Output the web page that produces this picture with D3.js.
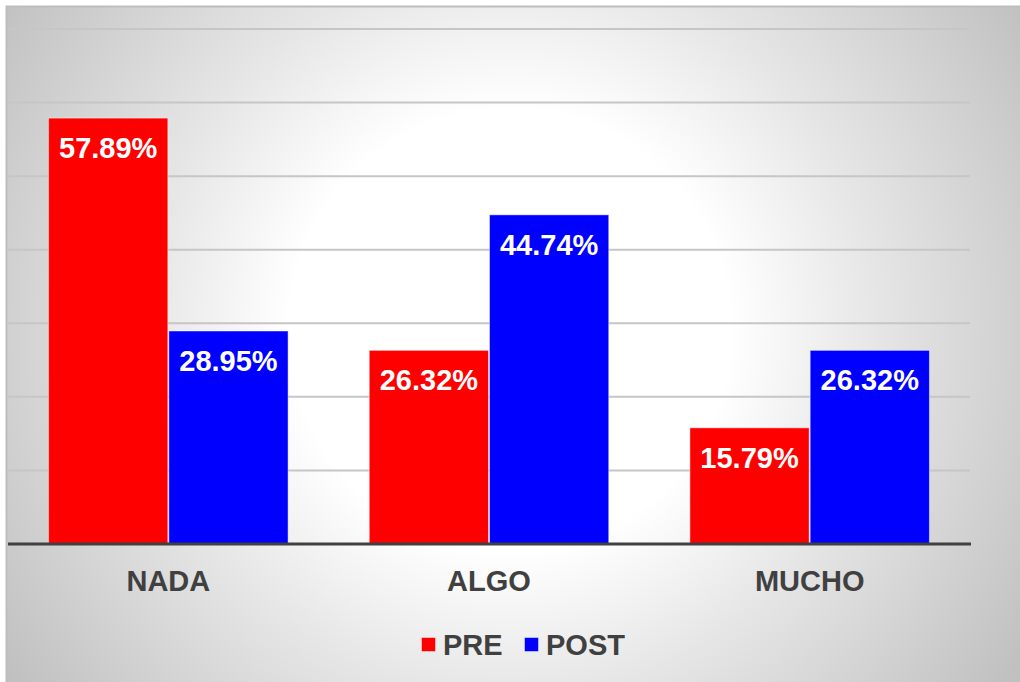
<!DOCTYPE html>
<html>
<head>
<meta charset="utf-8">
<script src="https://cdn.jsdelivr.net/npm/d3@7"></script>
<style>
  html, body { margin: 0; padding: 0; background: #ffffff; }
  svg { display: block; font-family: "Liberation Sans", Arial, sans-serif; }
</style>
</head>
<body>
<svg id="chart" width="1020" height="682"></svg>
<script>
// Categories, series and their values (percent)
const categories = ["NADA", "ALGO", "MUCHO"];
const seriesNames = ["PRE", "POST"];
const preValues = [57.89, 26.32, 15.79];
const postValues = [28.95, 44.74, 26.32];
const gridTicks = [10, 20, 30, 40, 50, 60, 70];
const seriesColors = ["#ff0000", "#0000ff"];

const svg = d3.select("#chart");
const W = 1020, H = 682;
const FONT_SIZE = 29;

// Background panel with radial grey-to-white shading
const defs = svg.append("defs");
const grad = defs.append("radialGradient")
  .attr("id", "bg")
  .attr("gradientUnits", "userSpaceOnUse")
  .attr("cx", 510).attr("cy", 330).attr("r", 610);
grad.append("stop").attr("offset", 0).attr("stop-color", "#ffffff");
grad.append("stop").attr("offset", 0.36).attr("stop-color", "#ffffff");
grad.append("stop").attr("offset", 0.6).attr("stop-color", "#e6e6e6");
grad.append("stop").attr("offset", 1).attr("stop-color", "#c0c0c0");

svg.append("rect")
  .attr("x", 6).attr("y", 6).attr("width", W - 6).attr("height", H - 6)
  .attr("fill", "url(#bg)");
svg.append("path")
  .attr("d", `M6.5,${H} V6.5 H${W}`)
  .attr("fill", "none").attr("stroke", "#bdbdbd").attr("stroke-width", 2);

// Plot area
const plot = { left: 8, right: 970, top: 29, bottom: 544 };

const x0 = d3.scaleBand()
  .domain(categories)
  .range([plot.left, plot.right])
  .paddingInner(0.25).paddingOuter(0.125);
const x1 = d3.scaleBand()
  .domain(seriesNames)
  .range([0, x0.bandwidth()])
  .padding(0);
const y = d3.scaleLinear().domain([0, 70]).range([plot.bottom, plot.top]);

// Horizontal gridlines
svg.append("g")
  .selectAll("line")
  .data(gridTicks)
  .join("line")
  .attr("x1", plot.left).attr("x2", plot.right)
  .attr("y1", d => y(d)).attr("y2", d => y(d))
  .attr("stroke", "#c6c6c6").attr("stroke-width", 2);

// Bars
const rows = categories.map((c, i) => ({
  category: c,
  values: [
    { series: "PRE", value: preValues[i], color: seriesColors[0] },
    { series: "POST", value: postValues[i], color: seriesColors[1] }
  ]
}));

const groups = svg.append("g")
  .selectAll("g")
  .data(rows)
  .join("g")
  .attr("transform", d => `translate(${x0(d.category)},0)`);

groups.selectAll("rect")
  .data(d => d.values)
  .join("rect")
  .attr("x", d => x1(d.series) + 0.5)
  .attr("y", d => y(d.value))
  .attr("width", x1.bandwidth() - 1)
  .attr("height", d => y(0) - y(d.value))
  .attr("fill", d => d.color)
  .attr("stroke", "rgba(255,255,255,0.45)")
  .attr("stroke-width", 1);

// Value labels inside bar tops
groups.selectAll("text")
  .data(d => d.values)
  .join("text")
  .attr("x", d => x1(d.series) + x1.bandwidth() / 2)
  .attr("y", d => y(d.value) + 40)
  .attr("text-anchor", "middle")
  .attr("fill", "#ffffff")
  .attr("font-weight", "bold")
  .attr("font-size", FONT_SIZE)
  .text(d => d.value.toFixed(2) + "%");

// Baseline axis
const xAxis = svg.append("g")
  .attr("transform", `translate(0,${plot.bottom})`)
  .call(d3.axisBottom(x0).tickSize(0).tickPadding(26));
xAxis.select(".domain")
  .attr("d", `M${plot.left},0H${plot.right + 1}`)
  .attr("stroke", "#404040").attr("stroke-width", 3);
xAxis.selectAll("text")
  .attr("fill", "#404040")
  .attr("font-size", FONT_SIZE)
  .attr("font-weight", "bold")
  .attr("font-family", "'Liberation Sans', Arial, sans-serif");

// Legend
const legendItems = [
  { name: seriesNames[0], color: seriesColors[0], x: 421 },
  { name: seriesNames[1], color: seriesColors[1], x: 524 }
];
const legend = svg.append("g")
  .selectAll("g")
  .data(legendItems)
  .join("g")
  .attr("transform", d => `translate(${d.x},637)`);
legend.append("rect")
  .attr("x", 0.5).attr("y", 0.5).attr("width", 14).attr("height", 14)
  .attr("fill", d => d.color)
  .attr("stroke", "rgba(255,255,255,0.45)").attr("stroke-width", 1);
legend.append("text")
  .attr("x", 22).attr("y", 18)
  .attr("fill", "#404040")
  .attr("font-size", FONT_SIZE)
  .attr("font-weight", "bold")
  .text(d => d.name);
</script>
</body>
</html>
